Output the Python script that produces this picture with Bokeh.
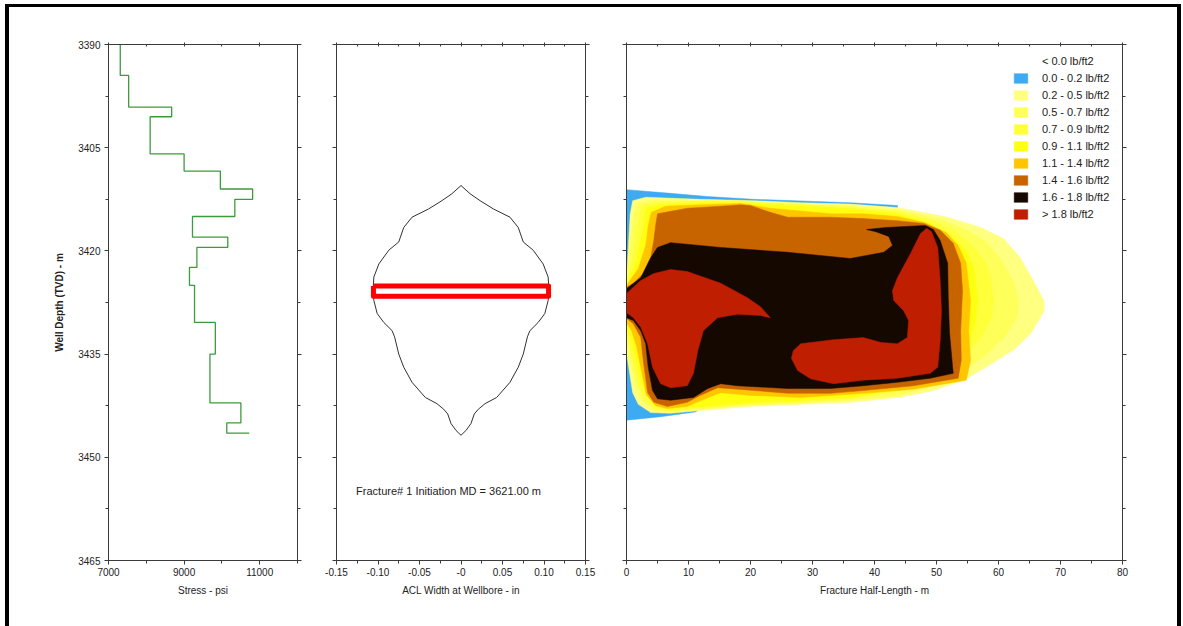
from bokeh.plotting import figure
from bokeh.models import (Range1d, LinearAxis, FixedTicker, CustomJSTickFormatter,
                          Legend, LegendItem, Spacer, Label)
from bokeh.layouts import row, column
from bokeh.embed import file_html
from bokeh.resources import INLINE

FONT = "Liberation Sans"
TXT = "#222222"
AX = "#3a3a3a"

# ---------------- data ----------------
depth_ticks = [3390, 3405, 3420, 3435, 3450, 3465]
depth_minor = [3397.5, 3412.5, 3427.5, 3442.5, 3457.5]

# stress profile (layer boundaries in m TVD, stress per layer in psi)
stress_bounds = [3390, 3394.5, 3399.1, 3400.5, 3405.9, 3408.4, 3411.0, 3412.5, 3415.0,
                 3418.0, 3419.5, 3422.4, 3425.0, 3430.4, 3435.0, 3442.1, 3445.0, 3446.5]
stress_psi = [7311, 7533, 8671, 8102, 9000, 9960, 10813, 10342, 9222,
              10156, 9338, 9142, 9276, 9827, 9684, 10502, 10129]
stress_base_psi = 10724
stress_ticks = [7000, 9000, 11000]
stress_minor = [8000, 10000, 12000]

# ACL width at wellbore (half width, symmetric)
width_depth = [3410.5, 3411.7, 3412.7, 3413.9, 3415.1, 3416.6, 3418.0, 3418.7, 3419.9,
               3421.9, 3423.8, 3425.8, 3427.2, 3429.1, 3430.4, 3431.6, 3432.5, 3435.0,
               3436.9, 3439.1, 3441.3, 3442.2, 3443.0, 3443.7, 3445.1, 3446.1, 3446.8]
width_half_in = [0.0, 0.011, 0.023, 0.039, 0.059, 0.069, 0.073, 0.075, 0.087,
                 0.099, 0.105, 0.106, 0.105, 0.101, 0.093, 0.083, 0.080, 0.075,
                 0.069, 0.059, 0.043, 0.029, 0.021, 0.016, 0.012, 0.006, 0.0]
width_ticks = [-0.15, -0.10, -0.05, 0.0, 0.05, 0.10, 0.15]
width_minor = [-0.125, -0.075, -0.025, 0.025, 0.075, 0.125]
init_depth_top = 3425.1
init_depth_bottom = 3426.6
init_half_width = 0.1055
init_text = "Fracture# 1 Initiation MD = 3621.00 m"
init_text_x = -0.015
init_text_depth = 3454.9

# proppant concentration contours (half-length m, depth m)
conc_labels = ["< 0.0 lb/ft2", "0.0 - 0.2 lb/ft2", "0.2 - 0.5 lb/ft2", "0.5 - 0.7 lb/ft2",
               "0.7 - 0.9 lb/ft2", "0.9 - 1.1 lb/ft2", "1.1 - 1.4 lb/ft2", "1.4 - 1.6 lb/ft2",
               "1.6 - 1.8 lb/ft2", "> 1.8 lb/ft2"]
conc_colors = [None, "#3daaf2", "#ffff80", "#ffff5a", "#ffff3a", "#ffff10",
               "#ffc600", "#c86400", "#140800", "#c01e00"]

c00_x = [0, 6.6, 13.1, 20.5, 36.1, 43.7, 44.2, 11.1, 5.5, 0]
c00_d = [3411.1, 3411.6, 3412.1, 3412.5, 3413.0, 3413.4, 3427.2, 3443.4, 3444.1, 3444.6]

c02_x = [0, 0.3, 0.6, 1.0, 3.1, 11.9, 20.5, 28.1, 36.1, 43.7, 51.8, 57.1, 60.8, 63.5, 65.6,
         67.3, 67.4, 65.2, 62.7, 59.8, 54.4, 49.0, 43.7, 36.1, 28.1, 20.0, 11.9, 7.1, 3.9,
         1.9, 1.0, 0.5, 0]
c02_d = [3424.3, 3419.5, 3414.6, 3412.7, 3412.2, 3412.5, 3412.7, 3413.0, 3413.2, 3413.7,
         3415.1, 3416.6, 3418.2, 3421.0, 3424.3, 3427.2, 3428.7, 3432.0, 3434.2, 3435.9,
         3438.8, 3440.4, 3441.3, 3442.0, 3442.3, 3442.6, 3443.2, 3443.6, 3443.5, 3442.3,
         3440.6, 3437.7, 3434.8]

c05_x = [0, 0.5, 1.0, 1.6, 3.9, 11.9, 18.4, 20.5, 28.1, 36.1, 43.7, 50.6, 54.7, 57.9, 60.3,
         62.3, 63.2, 63.1, 61.1, 57.9, 53.1, 48.2, 43.7, 36.1, 28.1, 20.0, 11.9, 7.1, 4.2,
         2.4, 1.5, 0.8, 0.3, 0]
c05_d = [3424.6, 3419.9, 3415.6, 3413.1, 3412.7, 3412.7, 3412.7, 3412.9, 3413.2, 3413.5,
         3414.1, 3415.4, 3416.9, 3418.6, 3421.1, 3424.3, 3427.2, 3429.4, 3432.4, 3435.2,
         3438.1, 3440.0, 3441.0, 3441.7, 3442.1, 3442.4, 3443.0, 3443.4, 3443.2, 3441.7,
         3439.7, 3436.8, 3434.8, 3433.3]

c07_x = [0, 1.0, 1.8, 2.4, 4.7, 11.9, 18.4, 20.5, 28.1, 36.1, 43.7, 49.8, 53.1, 55.8, 57.9,
         58.9, 59.2, 58.9, 57.1, 54.2, 50.6, 46.6, 43.7, 36.1, 28.1, 20.0, 11.9, 7.1, 4.5,
         2.9, 1.9, 1.1, 0.5, 0]
c07_d = [3424.7, 3420.7, 3416.3, 3413.4, 3413.0, 3412.8, 3412.8, 3413.0, 3413.3, 3413.7,
         3414.3, 3415.7, 3417.3, 3419.2, 3421.7, 3424.3, 3427.2, 3429.8, 3432.7, 3435.6,
         3438.0, 3439.6, 3440.4, 3441.5, 3441.9, 3442.2, 3442.8, 3443.2, 3442.9, 3441.5,
         3439.4, 3436.2, 3433.8, 3432.0]

c09_x = [0, 1.5, 2.6, 3.2, 5.5, 11.9, 18.4, 20.5, 28.1, 36.1, 43.7, 49.0, 52.3, 54.7, 56.1,
         56.6, 56.3, 55.2, 53.1, 49.8, 43.7, 36.1, 28.1, 20.0, 11.9, 7.1, 4.8, 3.4, 2.4,
         1.6, 0.8, 0]
c09_d = [3424.9, 3421.7, 3417.3, 3413.8, 3413.3, 3413.0, 3413.0, 3413.2, 3413.5, 3413.9,
         3414.6, 3416.0, 3417.8, 3419.9, 3422.8, 3427.2, 3430.1, 3433.8, 3436.7, 3438.5,
         3440.1, 3441.3, 3441.7, 3442.0, 3442.6, 3443.1, 3442.6, 3441.2, 3439.1, 3435.9,
         3433.0, 3431.0]

c11_x = [0, 1.9, 3.1, 3.5, 4.0, 6.3, 11.9, 18.4, 23.2, 32.9, 38.2, 43.7, 48.2, 51.5, 53.5,
         54.8, 55.5, 55.2, 55.5, 54.8, 46.3, 38.2, 28.1, 20.0, 15.2, 12.7, 9.8, 6.6, 4.7,
         3.2, 2.4, 1.6, 0.8, 0]
c11_d = [3425.0, 3422.6, 3419.2, 3416.3, 3414.4, 3413.5, 3413.3, 3413.1, 3413.8, 3414.6,
         3414.6, 3415.0, 3415.9, 3417.3, 3419.2, 3421.8, 3427.2, 3431.6, 3435.9, 3438.8,
         3440.1, 3440.7, 3441.3, 3441.0, 3440.6, 3441.5, 3442.6, 3442.9, 3442.5, 3440.9,
         3437.4, 3433.8, 3431.6, 3430.4]

c14_x = [0, 1.1, 2.7, 3.9, 4.4, 4.7, 5.0, 9.8, 15.2, 18.4, 20.0, 23.2, 26.0, 32.9, 38.2,
         43.7, 47.9, 50.6, 52.7, 53.9, 54.2, 53.9, 54.0, 53.5, 46.3, 38.2, 32.9, 26.0, 17.9,
         14.7, 11.9, 9.8, 6.6, 4.4, 3.4, 2.7, 2.3, 1.1, 0]
c14_d = [3425.3, 3424.7, 3423.3, 3421.0, 3418.5, 3416.3, 3414.6, 3413.8, 3413.5, 3413.3,
         3413.4, 3414.4, 3415.1, 3415.1, 3415.3, 3415.6, 3416.0, 3417.0, 3418.9, 3421.8,
         3425.8, 3431.6, 3435.9, 3438.5, 3439.6, 3440.3, 3440.7, 3440.7, 3440.1, 3439.9,
         3441.0, 3442.0, 3442.6, 3442.0, 3440.6, 3435.9, 3432.6, 3430.6, 3429.8]

c16_x = [0, 2.3, 3.9, 5.0, 7.1, 15.2, 26.0, 36.1, 41.5, 42.9, 42.3, 40.2, 38.7, 41.8, 48.2,
         49.5, 50.6, 51.8, 51.9, 52.1, 52.6, 52.7, 49.0, 43.7, 38.2, 32.9, 26.0, 17.9, 15.2,
         13.1, 10.8, 7.1, 5.0, 4.2, 3.5, 3.1, 2.3, 1.1, 0]
c16_d = [3425.5, 3423.9, 3421.0, 3419.5, 3418.8, 3419.5, 3420.2, 3421.1, 3420.2, 3419.2,
         3417.9, 3417.2, 3416.9, 3416.6, 3416.3, 3416.9, 3418.5, 3421.8, 3426.8, 3431.9,
         3436.9, 3437.8, 3438.5, 3439.1, 3439.6, 3440.0, 3440.0, 3439.6, 3439.3, 3440.0,
         3441.3, 3441.7, 3441.5, 3440.3, 3436.9, 3433.5, 3431.6, 3430.1, 3429.7]

c18a_x = [0, 2.3, 4.4, 7.1, 9.8, 15.2, 19.5, 21.6, 23.2, 21.6, 17.9, 14.7, 12.4, 11.5,
          10.8, 9.8, 7.1, 5.5, 4.2, 3.4, 2.3, 1.1, 0]
c18a_d = [3426.2, 3424.3, 3423.3, 3422.7, 3423.0, 3424.7, 3426.8, 3428.1, 3429.7, 3429.4,
          3429.2, 3429.7, 3431.6, 3434.5, 3437.8, 3439.6, 3439.9, 3439.3, 3436.9, 3433.5,
          3431.1, 3429.7, 3429.0]
c18b_x = [26.9, 28.1, 33.4, 38.2, 41.0, 43.7, 45.3, 45.5, 44.7, 43.1, 42.9, 43.7, 45.8,
          47.4, 48.4, 49.2, 50.2, 50.6, 50.8, 50.6, 50.2, 49.0, 43.7, 38.2, 33.4, 29.7,
          27.6, 26.6]
c18b_d = [3434.5, 3433.5, 3432.9, 3432.6, 3433.3, 3433.5, 3432.6, 3430.1, 3428.7, 3427.2,
          3425.8, 3423.9, 3420.4, 3417.5, 3416.7, 3417.2, 3419.5, 3424.3, 3428.7, 3433.0,
          3436.9, 3437.8, 3438.5, 3438.8, 3439.3, 3438.6, 3437.4, 3435.6]

length_ticks = [0, 10, 20, 30, 40, 50, 60, 70, 80]
length_minor = [5, 15, 25, 35, 45, 55, 65, 75]

# ---------------- helpers ----------------
depth_range = Range1d(3465, 3390)
FIG_H = 619
EMPTY = CustomJSTickFormatter(code="return '';")


def base_fig(width, x_range, left, right):
    p = figure(width=width, height=FIG_H, x_range=x_range, y_range=depth_range,
               output_backend="svg", toolbar_location=None, tools="",
               min_border_left=left, min_border_right=right,
               min_border_top=37, min_border_bottom=66,
               x_axis_location=None, y_axis_location=None)
    p.xgrid.visible = False
    p.ygrid.visible = False
    p.outline_line_color = AX
    p.outline_line_width = 1
    p.background_fill_color = "white"
    p.border_fill_color = "white"
    return p


def style(ax, side):
    ax.axis_line_color = AX
    ax.major_tick_line_color = AX
    ax.minor_tick_line_color = AX
    ax.major_label_text_font = FONT
    ax.major_label_text_font_size = "10px"
    ax.major_label_text_color = TXT
    ax.axis_label_text_font = FONT
    ax.axis_label_text_font_size = "10px"
    ax.axis_label_text_font_style = "normal"
    ax.axis_label_text_color = TXT
    if side == "above":
        ax.major_tick_in, ax.major_tick_out = 2, 2
        ax.minor_tick_in, ax.minor_tick_out = 2, 0
    else:
        ax.major_tick_in, ax.major_tick_out = 0, 4
        ax.minor_tick_in, ax.minor_tick_out = 0, 3


def add_axes(p, xt, xm, xlabel, xfmt, yfirst_labels, ylabel=None):
    xb = LinearAxis(ticker=FixedTicker(ticks=xt, minor_ticks=xm), axis_label=xlabel)
    if xfmt is not None:
        xb.formatter = xfmt
    style(xb, "below")
    xb.major_label_standoff = 3
    xb.axis_label_standoff = 6
    p.add_layout(xb, "below")
    xa = LinearAxis(ticker=FixedTicker(ticks=xt, minor_ticks=xm), formatter=EMPTY)
    style(xa, "above")
    p.add_layout(xa, "above")
    yl = LinearAxis(ticker=FixedTicker(ticks=depth_ticks, minor_ticks=depth_minor))
    style(yl, "left")
    if yfirst_labels:
        yl.axis_label = ylabel
        yl.axis_label_text_font_style = "bold"
        yl.major_label_standoff = 4
        yl.axis_label_standoff = 10
    else:
        yl.formatter = EMPTY
    p.add_layout(yl, "left")
    yr = LinearAxis(ticker=FixedTicker(ticks=depth_ticks, minor_ticks=depth_minor), formatter=EMPTY)
    style(yr, "right")
    p.add_layout(yr, "right")


# ---------------- panel 1: stress ----------------
p1 = base_fig(307, Range1d(7000, 12000), 99, 19)
sx, sy = [], []
for i, s in enumerate(stress_psi):
    sx += [s, s]
    sy += [stress_bounds[i], stress_bounds[i + 1]]
sx.append(stress_base_psi)
sy.append(stress_bounds[-1])
p1.line(sx, sy, line_color="#3c9c3c", line_width=1.3)
add_axes(p1, stress_ticks, stress_minor, "Stress - psi", None, True, "Well Depth (TVD) - m")

# ---------------- panel 2: width ----------------
p2 = base_fig(289, Range1d(-0.15, 0.15), 20, 20)
wx = list(width_half_in) + [-w for w in reversed(width_half_in)]
wy = list(width_depth) + list(reversed(width_depth))
p2.line(wx, wy, line_color="#303030", line_width=1)
p2.line([-init_half_width, init_half_width, init_half_width, -init_half_width, -init_half_width],
        [init_depth_top, init_depth_top, init_depth_bottom, init_depth_bottom, init_depth_top],
        line_color="#ff0000", line_width=5, line_join="round")
p2.add_layout(Label(x=init_text_x, y=init_text_depth, text=init_text, text_align="center",
                    text_baseline="middle", text_font=FONT, text_font_size="11px",
                    text_color=TXT))
wfmt = CustomJSTickFormatter(code="if (Math.abs(tick) < 1e-9) { return '-0'; } return tick.toFixed(2);")
add_axes(p2, width_ticks, width_minor, "ACL Width at Wellbore - in", wfmt, False)

# ---------------- panel 3: concentration ----------------
p3 = base_fig(572, Range1d(0, 80), 21, 55)
bands = [([], []), ([c00_x], [c00_d]), ([c02_x], [c02_d]), ([c05_x], [c05_d]),
         ([c07_x], [c07_d]), ([c09_x], [c09_d]), ([c11_x], [c11_d]), ([c14_x], [c14_d]),
         ([c16_x], [c16_d]), ([c18a_x, c18b_x], [c18a_d, c18b_d])]
renderers = []
for (xs, ys), col in zip(bands, conc_colors):
    if col is None:
        r = p3.patches(xs=[[0, 0, 0]], ys=[[3390, 3390, 3390]], fill_alpha=0, line_alpha=0)
    else:
        r = p3.patches(xs=xs, ys=ys, fill_color=col, line_color=col, line_width=0.5)
    renderers.append(r)
items = [LegendItem(label=lab, renderers=[r]) for lab, r in zip(conc_labels, renderers)]
legend = Legend(items=items, location="top_right", margin=11, padding=10, spacing=5,
                glyph_width=17, glyph_height=12, label_height=12, label_width=69,
                label_standoff=13, label_text_font=FONT, label_text_font_size="11px",
                label_text_color=TXT, border_line_color=None, background_fill_alpha=0)
p3.add_layout(legend)
add_axes(p3, length_ticks, length_minor, "Fracture Half-Length - m", None, False)

# ---------------- frame ----------------
top_gap = Spacer(width=1183, height=4)
left_gap = Spacer(width=5, height=622)
left_bar = Spacer(width=4, height=622, styles={"background-color": "#000000"})
top_bar = Spacer(width=1168, height=3, styles={"background-color": "#000000"})
right_bar = Spacer(width=4, height=622, styles={"background-color": "#000000"})
right_gap = Spacer(width=2, height=622)

layout = column(top_gap,
                row(left_gap, left_bar, column(top_bar, row(p1, p2, p3)), right_bar, right_gap))

open("out.html", "w").write(file_html(layout, INLINE))
